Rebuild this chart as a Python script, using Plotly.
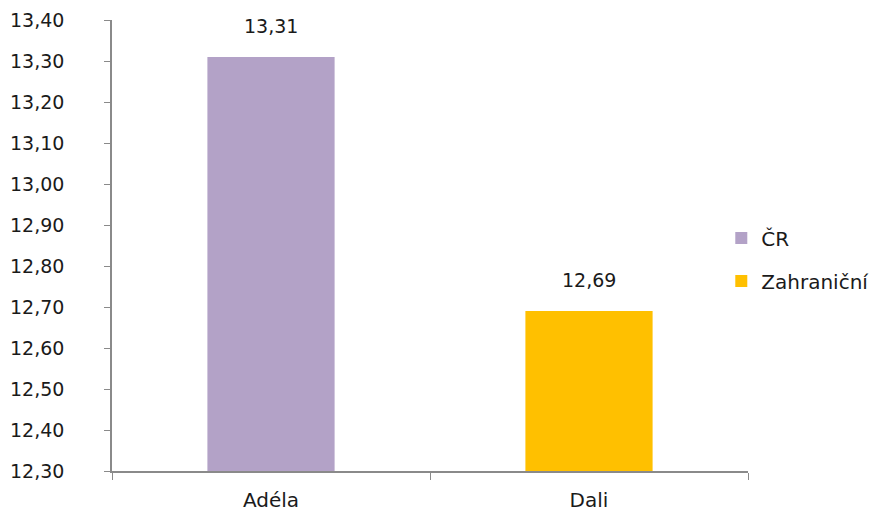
import plotly.graph_objects as go

categories = ["Adéla", "Dali"]
series_names = ["ČR", "Zahraniční"]
values = [13.31, 12.69]
colors = ["#B3A2C7", "#FFC000"]
y_ticks = [12.3, 12.4, 12.5, 12.6, 12.7, 12.8, 12.9, 13.0, 13.1, 13.2, 13.3, 13.4]

font_family = "DejaVu Sans, Verdana, sans-serif"
text_color = "#1a1a1a"
axis_color = "#8a8a8a"


def fmt(v):
    return f"{v:.2f}".replace(".", ",")


fig = go.Figure()
for cat, name, val, col in zip(categories, series_names, values, colors):
    fig.add_trace(go.Bar(
        x=[cat], y=[val], name=name, legendgroup=name,
        marker=dict(color=col, line=dict(width=0)),
        width=0.4,
    ))
    # value label above each bar
    fig.add_annotation(
        x=cat, y=val, text=fmt(val), showarrow=False,
        yanchor="bottom", yshift=18,
        font=dict(size=19, color=text_color, family=font_family),
    )

fig.update_layout(
    width=877, height=512,
    margin=dict(l=112, r=129, t=20, b=41, autoexpand=False),
    paper_bgcolor="white", plot_bgcolor="white",
    barmode="overlay",
    separators=", ",
    font=dict(family=font_family, size=19, color=text_color),
    showlegend=True,
    legend=dict(
        x=0.958, y=0.469, xanchor="left", yanchor="middle",
        font=dict(size=20, color=text_color),
        tracegroupgap=14,
        bgcolor="rgba(0,0,0,0)",
    ),
    xaxis=dict(
        showline=True, linecolor=axis_color, linewidth=1.5,
        ticks="outside", tickson="boundaries", ticklen=7, tickcolor=axis_color,
        showgrid=False, tickfont=dict(size=20), ticklabelstandoff=10,
    ),
    yaxis=dict(
        range=[12.3, 13.4], tickvals=y_ticks,
        ticktext=[fmt(v) for v in y_ticks],
        showline=True, linecolor=axis_color, linewidth=1.5,
        ticks="outside", ticklen=6, tickcolor=axis_color,
        showgrid=False, zeroline=False, tickfont=dict(size=19),
        ticklabelstandoff=36,
    ),
)

fig.write_html("out.html")
